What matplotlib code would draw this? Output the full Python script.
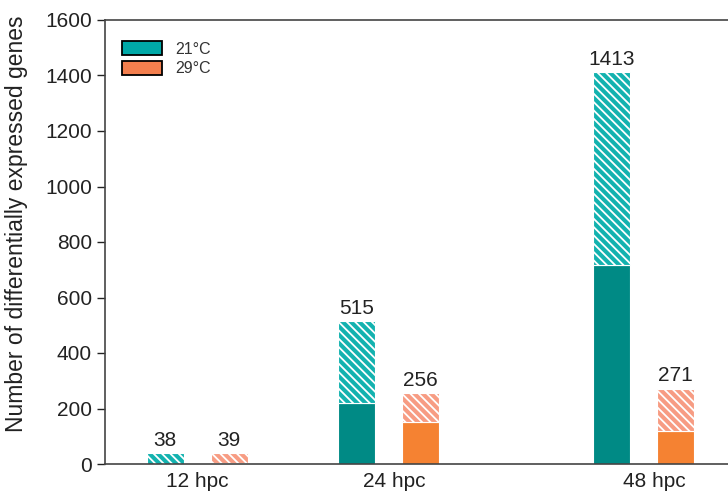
import numpy as np
import matplotlib
matplotlib.use("Agg")
import matplotlib.pyplot as plt
from matplotlib.patches import Patch

plt.rcParams['font.family'] = ['Liberation Sans', 'DejaVu Sans']
plt.rcParams['hatch.linewidth'] = 1.3

# data
groups = ['12 hpc', '24 hpc', '48 hpc']
totals_21 = [38, 515, 1413]
totals_29 = [39, 256, 271]
solid_21 = [0, 221, 717]
solid_29 = [3, 152, 120]

# layout (x axis in pixel-like units)
group_x = np.array([197, 388.5, 643.5])
tick_x = [197, 394, 654]
off = 32
width = 37

teal = '#008A85'
teal_h = '#13B2AF'
orange = '#F58232'
orange_h = '#F79C83'

fig = plt.figure(figsize=(7.28, 4.95), dpi=100)
ax = fig.add_axes([105/728, 31/495, 623/728, 444/495])

for tot, sol, dx, c, ch in [(totals_21, solid_21, -off, teal, teal_h),
                            (totals_29, solid_29, off, orange, orange_h)]:
    tot = np.array(tot)
    sol = np.array(sol)
    ax.bar(group_x + dx, sol, width, color=c, edgecolor='white', linewidth=0.8)
    ax.bar(group_x + dx, tot - sol, width, bottom=sol, color=ch,
           edgecolor='white', linewidth=0.8, hatch='\\\\\\\\')
    for x, t in zip(group_x + dx, tot):
        ax.text(x, t + 12, str(t), ha='center', va='bottom', fontsize=15, color='#222222')

ax.set_xlim(105, 728)
ax.set_ylim(0, 1600)
ax.set_yticks(range(0, 1601, 200))
ax.set_xticks(tick_x)
ax.set_xticklabels(groups)
ax.tick_params(axis='x', length=0, labelsize=15, pad=6, colors='#222222')
ax.tick_params(axis='y', length=6, width=1, labelsize=15, direction='out', colors='#222222')
ax.set_ylabel('Number of differentially expressed genes', fontsize=16.5, color='#222222')
ax.yaxis.set_label_coords(-0.123, 0.54)
ax.spines['right'].set_visible(False)
for s in ['left', 'bottom', 'top']:
    ax.spines[s].set_color('#444444')
    ax.spines[s].set_linewidth(1.2)

handles = [Patch(facecolor='#00A9A8', edgecolor='black', linewidth=1.3, label='21°C'),
           Patch(facecolor='#F47F4E', edgecolor='black', linewidth=1.3, label='29°C')]
ax.legend(handles=handles, loc='upper left', bbox_to_anchor=(0.005, 0.985), frameon=False,
          fontsize=11.5, handlelength=2.5, handleheight=1.0, handletextpad=0.8,
          labelspacing=0.25, labelcolor='#333333')

fig.savefig('out.png', dpi=100)
